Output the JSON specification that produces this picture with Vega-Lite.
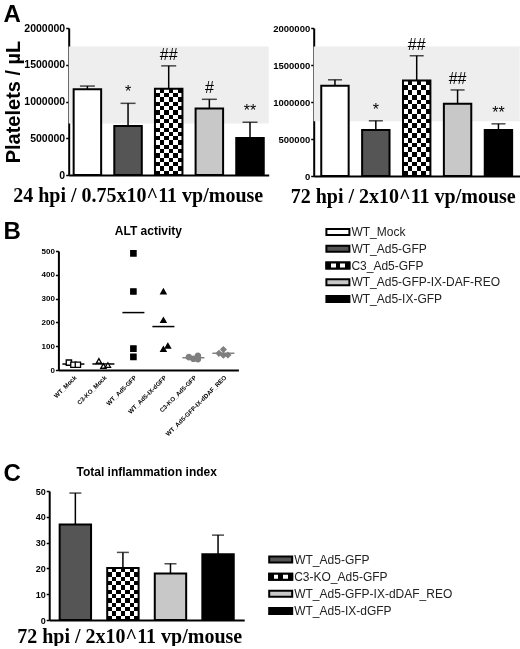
{
  "$schema": "https://vega.github.io/schema/vega-lite/v6.json",
  "padding": {"left": 3, "top": 3, "right": 0, "bottom": 0},
  "spacing": 14,
  "config": {
    "view": {"stroke": null},
    "font": "Liberation Sans",
    "axis": {
      "domainColor": "black", "domainWidth": 2, "tickColor": "black", "tickWidth": 1.5,
      "tickSize": 3, "labelPadding": 1, "labelFontWeight": "bold", "labelColor": "black",
      "labelOverlap": false, "titleColor": "black", "grid": false
    },
    "text": {"color": "black"},
    "title": {"color": "black"}
  },
  "datasets": {
    "platelets": [
      {"time": "24hpi", "group": "WT_Mock", "mean": 1165000, "upper": 1210000, "sig": ""},
      {"time": "24hpi", "group": "WT_Ad5-GFP", "mean": 665000, "upper": 975000, "sig": "*"},
      {"time": "24hpi", "group": "C3_Ad5-GFP", "mean": 1175000, "upper": 1485000, "sig": "##"},
      {"time": "24hpi", "group": "WT_Ad5-GFP-IX-DAF-REO", "mean": 905000, "upper": 1030000, "sig": "#"},
      {"time": "24hpi", "group": "WT_Ad5-IX-GFP", "mean": 505000, "upper": 718000, "sig": "**"},
      {"time": "72hpi", "group": "WT_Mock", "mean": 1220000, "upper": 1300000, "sig": ""},
      {"time": "72hpi", "group": "WT_Ad5-GFP", "mean": 620000, "upper": 746000, "sig": "*"},
      {"time": "72hpi", "group": "C3_Ad5-GFP", "mean": 1290000, "upper": 1625000, "sig": "##"},
      {"time": "72hpi", "group": "WT_Ad5-GFP-IX-DAF-REO", "mean": 975000, "upper": 1163000, "sig": "##"},
      {"time": "72hpi", "group": "WT_Ad5-IX-GFP", "mean": 620000, "upper": 705000, "sig": "**"}
    ],
    "alt": [
      {"group": "WT_Mock", "slot": -1, "alt": 31},
      {"group": "WT_Mock", "slot": 0, "alt": 22},
      {"group": "WT_Mock", "slot": 1, "alt": 22},
      {"group": "C3-KO_Mock", "slot": -1, "alt": 38},
      {"group": "C3-KO_Mock", "slot": 0, "alt": 17},
      {"group": "C3-KO_Mock", "slot": 1, "alt": 21},
      {"group": "WT_Ad5-GFP", "slot": 0, "alt": 490},
      {"group": "WT_Ad5-GFP", "slot": 0, "alt": 330},
      {"group": "WT_Ad5-GFP", "slot": 0, "alt": 90},
      {"group": "WT_Ad5-GFP", "slot": 0, "alt": 55},
      {"group": "WT_Ad5-IX-dGFP", "slot": 0, "alt": 330},
      {"group": "WT_Ad5-IX-dGFP", "slot": 0, "alt": 210},
      {"group": "WT_Ad5-IX-dGFP", "slot": 0, "alt": 88},
      {"group": "WT_Ad5-IX-dGFP", "slot": 1, "alt": 102},
      {"group": "C3-KO_Ad5-GFP", "slot": -1, "alt": 54},
      {"group": "C3-KO_Ad5-GFP", "slot": 0, "alt": 47},
      {"group": "C3-KO_Ad5-GFP", "slot": 1, "alt": 60},
      {"group": "C3-KO_Ad5-GFP", "slot": 1, "alt": 45},
      {"group": "WT_Ad5-GFP-IX-dDAF_REO", "slot": -1, "alt": 70},
      {"group": "WT_Ad5-GFP-IX-dDAF_REO", "slot": 0, "alt": 62},
      {"group": "WT_Ad5-GFP-IX-dDAF_REO", "slot": 0, "alt": 86},
      {"group": "WT_Ad5-GFP-IX-dDAF_REO", "slot": 1, "alt": 63}
    ],
    "inflam": [
      {"group": "WT_Ad5-GFP", "mean": 37, "upper": 49.2},
      {"group": "C3-KO_Ad5-GFP", "mean": 20.2, "upper": 26.2},
      {"group": "WT_Ad5-GFP-IX-dDAF_REO", "mean": 18, "upper": 21.8},
      {"group": "WT_Ad5-IX-dGFP", "mean": 25.5, "upper": 32.9}
    ],
    "legendA": [
      {"label": "WT_Mock", "order": 1},
      {"label": "WT_Ad5-GFP", "order": 2},
      {"label": "C3_Ad5-GFP", "order": 3},
      {"label": "WT_Ad5-GFP-IX-DAF-REO", "order": 4},
      {"label": "WT_Ad5-IX-GFP", "order": 5}
    ],
    "legendC": [
      {"label": "WT_Ad5-GFP", "order": 1},
      {"label": "C3-KO_Ad5-GFP", "order": 2},
      {"label": "WT_Ad5-GFP-IX-dDAF_REO", "order": 3},
      {"label": "WT_Ad5-IX-dGFP", "order": 4}
    ]
  },
  "resolve": {"scale": {"x": "independent", "y": "independent", "fill": "independent", "color": "independent"}},
  "vconcat": [
    {
      "spacing": -17.3,
      "resolve": {"scale": {"x": "independent", "y": "independent", "fill": "independent"}},
      "hconcat": [
        {
          "width": 1, "height": 1,
          "data": {"values": [{"panel": "A"}]},
          "mark": {"type": "text", "align": "left", "baseline": "alphabetic", "fontSize": 24, "fontWeight": "bold", "dy": -6.5},
          "encoding": {"text": {"field": "panel"}}
        },
        {
          "spacing": 4,
          "resolve": {"scale": {"x": "independent", "y": "independent", "fill": "independent"}},
          "hconcat": [
            {
              "width": 200,
              "height": 147,
              "layer": [
                {
                  "data": {"values": [{"lo": 700000, "hi": 1750000}]},
                  "mark": {"type": "rect", "color": "#eeeeee"},
                  "encoding": {
                    "y": {"field": "lo", "type": "quantitative", "title": "Platelets / µL", "scale": {"domain": [0, 2000000]},
                      "axis": {"titleFontSize": 20, "titleFontWeight": "bold", "titlePadding": 0, "values": [0, 500000, 1000000, 1500000, 2000000], "format": "d", "labelFontSize": 10.5}},
                    "y2": {"field": "hi"}
                  }
                },
                {
                  "data": {"name": "platelets"},
                  "transform": [{"filter": "datum.time == '24hpi'"}],
                  "encoding": {
                    "x": {
                      "field": "group", "type": "nominal",
                      "scale": {"type": "band", "domain": ["WT_Mock", "WT_Ad5-GFP", "C3_Ad5-GFP", "WT_Ad5-GFP-IX-DAF-REO", "WT_Ad5-IX-GFP"], "paddingInner": 0.32, "paddingOuter": 0.12},
                      "axis": {"title": "24 hpi / 0.75x10^11 vp/mouse", "titleFont": "Liberation Serif", "titleFontSize": 20, "titleFontWeight": "bold", "titleX": 69, "titlePadding": 10, "labels": false, "ticks": false}
                    },
                    "y": {
                      "field": "mean", "type": "quantitative", "title": "Platelets / µL", "scale": {"domain": [0, 2000000]},
                      "axis": {"titleFontSize": 20, "titleFontWeight": "bold", "titlePadding": 0, "values": [0, 500000, 1000000, 1500000, 2000000], "format": "d", "labelFontSize": 10.5}
                    }
                  },
                  "layer": [
                    {
                      "mark": {"type": "bar", "size": 27.5},
                      "encoding": {"fill": {"field": "group", "type": "nominal", "scale": {"domain": ["WT_Mock", "WT_Ad5-GFP", "C3_Ad5-GFP", "WT_Ad5-GFP-IX-DAF-REO", "WT_Ad5-IX-GFP"], "range": ["white", "#555555", "#888888", "#c8c8c8", "black"]}, "legend": null}}
                    },
                    {
                      "transform": [{"filter": "datum.group == 'C3_Ad5-GFP'"}],
                      "mark": {"type": "bar", "size": 27.5, "fill": {"gradient": "linear", "x1": 0, "y1": 0, "x2": 1, "y2": 0, "stops": [
                        {"offset": 0, "color": "black"}, {"offset": 0.1667, "color": "black"}, {"offset": 0.1667, "color": "white"}, {"offset": 0.3333, "color": "white"},
                        {"offset": 0.3333, "color": "black"}, {"offset": 0.5, "color": "black"}, {"offset": 0.5, "color": "white"}, {"offset": 0.6667, "color": "white"},
                        {"offset": 0.6667, "color": "black"}, {"offset": 0.8333, "color": "black"}, {"offset": 0.8333, "color": "white"}, {"offset": 1, "color": "white"}]}}
                    },
                    {
                      "transform": [{"filter": "datum.group == 'C3_Ad5-GFP'"}],
                      "mark": {"type": "bar", "size": 27.5, "blend": "difference", "fill": {"gradient": "linear", "x1": 0, "y1": 0, "x2": 0, "y2": 1, "stops": [
                        {"offset": 0, "color": "white"}, {"offset": 0.05, "color": "white"}, {"offset": 0.05, "color": "black"}, {"offset": 0.1, "color": "black"},
                        {"offset": 0.1, "color": "white"}, {"offset": 0.15, "color": "white"}, {"offset": 0.15, "color": "black"}, {"offset": 0.2, "color": "black"},
                        {"offset": 0.2, "color": "white"}, {"offset": 0.25, "color": "white"}, {"offset": 0.25, "color": "black"}, {"offset": 0.3, "color": "black"},
                        {"offset": 0.3, "color": "white"}, {"offset": 0.35, "color": "white"}, {"offset": 0.35, "color": "black"}, {"offset": 0.4, "color": "black"},
                        {"offset": 0.4, "color": "white"}, {"offset": 0.45, "color": "white"}, {"offset": 0.45, "color": "black"}, {"offset": 0.5, "color": "black"},
                        {"offset": 0.5, "color": "white"}, {"offset": 0.55, "color": "white"}, {"offset": 0.55, "color": "black"}, {"offset": 0.6, "color": "black"},
                        {"offset": 0.6, "color": "white"}, {"offset": 0.65, "color": "white"}, {"offset": 0.65, "color": "black"}, {"offset": 0.7, "color": "black"},
                        {"offset": 0.7, "color": "white"}, {"offset": 0.75, "color": "white"}, {"offset": 0.75, "color": "black"}, {"offset": 0.8, "color": "black"},
                        {"offset": 0.8, "color": "white"}, {"offset": 0.85, "color": "white"}, {"offset": 0.85, "color": "black"}, {"offset": 0.9, "color": "black"},
                        {"offset": 0.9, "color": "white"}, {"offset": 0.95, "color": "white"}, {"offset": 0.95, "color": "black"}, {"offset": 1, "color": "black"}]}}
                    },
                    {"mark": {"type": "bar", "size": 27.5, "fillOpacity": 0, "stroke": "black", "strokeWidth": 2}},
                    {"mark": {"type": "rule", "color": "black", "strokeWidth": 1.5}, "encoding": {"y2": {"field": "upper"}}},
                    {"mark": {"type": "tick", "color": "black", "thickness": 1.5, "size": 15}, "encoding": {"y": {"field": "upper", "type": "quantitative", "title": "Platelets / µL",
                      "axis": {"titleFontSize": 20, "titleFontWeight": "bold", "titlePadding": 0, "values": [0, 500000, 1000000, 1500000, 2000000], "format": "d", "labelFontSize": 10.5}}}},
                    {"mark": {"type": "text", "color": "black", "baseline": "bottom", "dy": -3, "fontSize": 16}, "encoding": {"y": {"field": "upper", "type": "quantitative", "title": "Platelets / µL",
                      "axis": {"titleFontSize": 20, "titleFontWeight": "bold", "titlePadding": 0, "values": [0, 500000, 1000000, 1500000, 2000000], "format": "d", "labelFontSize": 10.5}}, "text": {"field": "sig"}}}
                  ]
                }
              ]
            },
            {
              "width": 206,
              "height": 148,
              "layer": [
                {
                  "data": {"values": [{"lo": 740000, "hi": 1750000}]},
                  "mark": {"type": "rect", "color": "#eeeeee"},
                  "encoding": {
                    "y": {"field": "lo", "type": "quantitative", "title": null, "scale": {"domain": [0, 2000000]},
                      "axis": {"values": [0, 500000, 1000000, 1500000, 2000000], "format": "d", "labelFontSize": 9.5}},
                    "y2": {"field": "hi"}
                  }
                },
                {
                  "data": {"name": "platelets"},
                  "transform": [{"filter": "datum.time == '72hpi'"}],
                  "encoding": {
                    "x": {
                      "field": "group", "type": "nominal",
                      "scale": {"type": "band", "domain": ["WT_Mock", "WT_Ad5-GFP", "C3_Ad5-GFP", "WT_Ad5-GFP-IX-DAF-REO", "WT_Ad5-IX-GFP"], "paddingInner": 0.33, "paddingOuter": 0.185},
                      "axis": {"title": "72 hpi / 2x10^11 vp/mouse", "titleFont": "Liberation Serif", "titleFontSize": 20, "titleFontWeight": "bold", "titleX": 89, "titlePadding": 10, "labels": false, "ticks": false}
                    },
                    "y": {
                      "field": "mean", "type": "quantitative", "title": null, "scale": {"domain": [0, 2000000]},
                      "axis": {"values": [0, 500000, 1000000, 1500000, 2000000], "format": "d", "labelFontSize": 9.5}
                    }
                  },
                  "layer": [
                    {
                      "mark": {"type": "bar", "size": 27.4},
                      "encoding": {"fill": {"field": "group", "type": "nominal", "scale": {"domain": ["WT_Mock", "WT_Ad5-GFP", "C3_Ad5-GFP", "WT_Ad5-GFP-IX-DAF-REO", "WT_Ad5-IX-GFP"], "range": ["white", "#555555", "#888888", "#c8c8c8", "black"]}, "legend": null}}
                    },
                    {
                      "transform": [{"filter": "datum.group == 'C3_Ad5-GFP'"}],
                      "mark": {"type": "bar", "size": 27.4, "fill": {"gradient": "linear", "x1": 0, "y1": 0, "x2": 1, "y2": 0, "stops": [
                        {"offset": 0, "color": "black"}, {"offset": 0.1667, "color": "black"}, {"offset": 0.1667, "color": "white"}, {"offset": 0.3333, "color": "white"},
                        {"offset": 0.3333, "color": "black"}, {"offset": 0.5, "color": "black"}, {"offset": 0.5, "color": "white"}, {"offset": 0.6667, "color": "white"},
                        {"offset": 0.6667, "color": "black"}, {"offset": 0.8333, "color": "black"}, {"offset": 0.8333, "color": "white"}, {"offset": 1, "color": "white"}]}}
                    },
                    {
                      "transform": [{"filter": "datum.group == 'C3_Ad5-GFP'"}],
                      "mark": {"type": "bar", "size": 27.4, "blend": "difference", "fill": {"gradient": "linear", "x1": 0, "y1": 0, "x2": 0, "y2": 1, "stops": [
                        {"offset": 0, "color": "white"}, {"offset": 0.05, "color": "white"}, {"offset": 0.05, "color": "black"}, {"offset": 0.1, "color": "black"},
                        {"offset": 0.1, "color": "white"}, {"offset": 0.15, "color": "white"}, {"offset": 0.15, "color": "black"}, {"offset": 0.2, "color": "black"},
                        {"offset": 0.2, "color": "white"}, {"offset": 0.25, "color": "white"}, {"offset": 0.25, "color": "black"}, {"offset": 0.3, "color": "black"},
                        {"offset": 0.3, "color": "white"}, {"offset": 0.35, "color": "white"}, {"offset": 0.35, "color": "black"}, {"offset": 0.4, "color": "black"},
                        {"offset": 0.4, "color": "white"}, {"offset": 0.45, "color": "white"}, {"offset": 0.45, "color": "black"}, {"offset": 0.5, "color": "black"},
                        {"offset": 0.5, "color": "white"}, {"offset": 0.55, "color": "white"}, {"offset": 0.55, "color": "black"}, {"offset": 0.6, "color": "black"},
                        {"offset": 0.6, "color": "white"}, {"offset": 0.65, "color": "white"}, {"offset": 0.65, "color": "black"}, {"offset": 0.7, "color": "black"},
                        {"offset": 0.7, "color": "white"}, {"offset": 0.75, "color": "white"}, {"offset": 0.75, "color": "black"}, {"offset": 0.8, "color": "black"},
                        {"offset": 0.8, "color": "white"}, {"offset": 0.85, "color": "white"}, {"offset": 0.85, "color": "black"}, {"offset": 0.9, "color": "black"},
                        {"offset": 0.9, "color": "white"}, {"offset": 0.95, "color": "white"}, {"offset": 0.95, "color": "black"}, {"offset": 1, "color": "black"}]}}
                    },
                    {"mark": {"type": "bar", "size": 27.4, "fillOpacity": 0, "stroke": "black", "strokeWidth": 2}},
                    {"mark": {"type": "rule", "color": "black", "strokeWidth": 1.5}, "encoding": {"y2": {"field": "upper"}}},
                    {"mark": {"type": "tick", "color": "black", "thickness": 1.5, "size": 14}, "encoding": {"y": {"field": "upper", "type": "quantitative", "title": null,
                      "axis": {"values": [0, 500000, 1000000, 1500000, 2000000], "format": "d", "labelFontSize": 9.5}}}},
                    {"mark": {"type": "text", "color": "black", "baseline": "bottom", "dy": -3, "fontSize": 16}, "encoding": {"y": {"field": "upper", "type": "quantitative", "title": null,
                      "axis": {"values": [0, 500000, 1000000, 1500000, 2000000], "format": "d", "labelFontSize": 9.5}}, "text": {"field": "sig"}}}
                  ]
                }
              ]
            }
          ]
        }
      ]
    },
    {
      "spacing": 19.4,
      "resolve": {"scale": {"x": "independent", "y": "independent", "fill": "independent", "color": "independent"}},
      "hconcat": [
        {
          "width": 1, "height": 1,
          "data": {"values": [{"panel": "B"}]},
          "mark": {"type": "text", "align": "left", "baseline": "alphabetic", "fontSize": 24, "fontWeight": "bold", "dy": -12.5},
          "encoding": {"text": {"field": "panel"}}
        },
        {
          "spacing": 87,
          "resolve": {"scale": {"x": "independent", "y": "independent", "fill": "independent", "color": "independent"}},
          "hconcat": [
            {
              "title": {"text": "ALT activity", "fontSize": 12, "fontWeight": "bold", "offset": 9},
              "width": 180,
              "height": 119,
              "data": {"name": "alt"},
              "encoding": {
                "x": {
                  "field": "group", "type": "nominal",
                  "scale": {"domain": ["WT_Mock", "C3-KO_Mock", "WT_Ad5-GFP", "WT_Ad5-IX-dGFP", "C3-KO_Ad5-GFP", "WT_Ad5-GFP-IX-dDAF_REO"]},
                  "axis": {"title": null, "labelAngle": -45, "labelFontSize": 6.2, "ticks": false, "labelPadding": 4}
                }
              },
              "layer": [
                {
                  "mark": {"type": "tick", "thickness": 1.5, "size": 22},
                  "encoding": {
                    "y": {"aggregate": "mean", "field": "alt", "type": "quantitative", "title": null, "scale": {"domain": [0, 500]}, "axis": {"values": [0, 100, 200, 300, 400, 500], "labelFontSize": 8}},
                    "color": {"field": "group", "type": "nominal", "scale": {"domain": ["WT_Mock", "C3-KO_Mock", "WT_Ad5-GFP", "WT_Ad5-IX-dGFP", "C3-KO_Ad5-GFP", "WT_Ad5-GFP-IX-dDAF_REO"], "range": ["black", "black", "black", "black", "#7f7f7f", "#7f7f7f"]}, "legend": null}
                  }
                },
                {
                  "mark": {"type": "point", "strokeWidth": 1.3, "opacity": 1, "size": 28},
                  "encoding": {
                    "xOffset": {"field": "slot", "type": "ordinal", "scale": {"domain": [-2, -1, 0, 1, 2]}},
                    "y": {"field": "alt", "type": "quantitative", "title": null, "scale": {"domain": [0, 500]}, "axis": {"values": [0, 100, 200, 300, 400, 500], "labelFontSize": 8}},
                    "shape": {"field": "group", "type": "nominal", "scale": {"domain": ["WT_Mock", "C3-KO_Mock", "WT_Ad5-GFP", "WT_Ad5-IX-dGFP", "C3-KO_Ad5-GFP", "WT_Ad5-GFP-IX-dDAF_REO"], "range": ["square", "triangle-up", "square", "triangle-up", "circle", "diamond"]}, "legend": null},
                    "fill": {"field": "group", "type": "nominal", "scale": {"domain": ["WT_Mock", "C3-KO_Mock", "WT_Ad5-GFP", "WT_Ad5-IX-dGFP", "C3-KO_Ad5-GFP", "WT_Ad5-GFP-IX-dDAF_REO"], "range": ["white", "white", "black", "black", "#7f7f7f", "#7f7f7f"]}, "legend": null},
                    "stroke": {"field": "group", "type": "nominal", "scale": {"domain": ["WT_Mock", "C3-KO_Mock", "WT_Ad5-GFP", "WT_Ad5-IX-dGFP", "C3-KO_Ad5-GFP", "WT_Ad5-GFP-IX-dDAF_REO"], "range": ["black", "black", "black", "black", "#7f7f7f", "#7f7f7f"]}, "legend": null}
                  }
                }
              ]
            },
            {
              "width": 23,
              "height": 197,
              "data": {"name": "legendA"},
              "encoding": {
                "y": {"field": "order", "type": "quantitative", "scale": {"domain": [2.134, 13.896], "reverse": true, "nice": false, "zero": false, "padding": 0}, "axis": null}
              },
              "layer": [
                {
                  "mark": {"type": "bar", "size": 6, "stroke": "black", "strokeWidth": 2},
                  "encoding": {
                    "x": {"datum": 0, "type": "quantitative", "scale": {"domain": [0, 1]}, "axis": null},
                    "x2": {"datum": 1},
                    "fill": {"field": "label", "type": "nominal", "scale": {"domain": ["WT_Mock", "WT_Ad5-GFP", "C3_Ad5-GFP", "WT_Ad5-GFP-IX-DAF-REO", "WT_Ad5-IX-GFP"], "range": ["white", "#555555", "#888888", "#c8c8c8", "black"]}, "legend": null}
                  }
                },
                {
                  "transform": [{"filter": "datum.label == 'C3_Ad5-GFP'"}],
                  "mark": {"type": "bar", "size": 6, "stroke": "black", "strokeWidth": 2, "fill": {"gradient": "linear", "x1": 0, "y1": 0, "x2": 1, "y2": 0, "stops": [
                    {"offset": 0, "color": "black"}, {"offset": 0.2, "color": "black"}, {"offset": 0.2, "color": "white"}, {"offset": 0.4, "color": "white"},
                    {"offset": 0.4, "color": "black"}, {"offset": 0.6, "color": "black"}, {"offset": 0.6, "color": "white"}, {"offset": 0.8, "color": "white"},
                    {"offset": 0.8, "color": "black"}, {"offset": 1, "color": "black"}]}},
                  "encoding": {"x": {"datum": 0, "type": "quantitative"}, "x2": {"datum": 1}}
                },
                {
                  "mark": {"type": "text", "align": "left", "baseline": "middle", "dx": 2, "fontSize": 12, "color": "#222222"},
                  "encoding": {"x": {"datum": 1, "type": "quantitative"}, "text": {"field": "label"}}
                }
              ]
            }
          ]
        }
      ]
    },
    {
      "spacing": -4.8,
      "resolve": {"scale": {"x": "independent", "y": "independent", "fill": "independent"}},
      "hconcat": [
        {
          "width": 1, "height": 1,
          "data": {"values": [{"panel": "C"}]},
          "mark": {"type": "text", "align": "left", "baseline": "alphabetic", "fontSize": 24, "fontWeight": "bold", "dy": -10.2},
          "encoding": {"text": {"field": "panel"}}
        },
        {
          "spacing": 24,
          "resolve": {"scale": {"x": "independent", "y": "independent", "fill": "independent"}},
          "hconcat": [
            {
              "title": {"text": "Total inflammation index", "fontSize": 12, "fontWeight": "bold", "offset": 8},
              "width": 195,
              "height": 129,
              "data": {"name": "inflam"},
              "encoding": {
                "x": {
                  "field": "group", "type": "nominal",
                  "scale": {"type": "band", "domain": ["WT_Ad5-GFP", "C3-KO_Ad5-GFP", "WT_Ad5-GFP-IX-dDAF_REO", "WT_Ad5-IX-dGFP"], "paddingInner": 0.34, "paddingOuter": 0.22},
                  "axis": {"title": "72 hpi / 2x10^11 vp/mouse", "titleFont": "Liberation Serif", "titleFontSize": 20, "titleFontWeight": "bold", "titleX": 80, "titlePadding": 6, "labels": false, "ticks": false}
                },
                "y": {
                  "field": "mean", "type": "quantitative", "title": null, "scale": {"domain": [0, 50]},
                  "axis": {"values": [0, 10, 20, 30, 40, 50], "labelFontSize": 9}
                }
              },
              "layer": [
                {
                  "mark": {"type": "bar", "size": 31.4},
                  "encoding": {"fill": {"field": "group", "type": "nominal", "scale": {"domain": ["WT_Ad5-GFP", "C3-KO_Ad5-GFP", "WT_Ad5-GFP-IX-dDAF_REO", "WT_Ad5-IX-dGFP"], "range": ["#555555", "#888888", "#c8c8c8", "black"]}, "legend": null}}
                },
                {
                  "transform": [{"filter": "datum.group == 'C3-KO_Ad5-GFP'"}],
                  "mark": {"type": "bar", "size": 31.4, "fill": {"gradient": "linear", "x1": 0, "y1": 0, "x2": 1, "y2": 0, "stops": [
                    {"offset": 0, "color": "black"}, {"offset": 0.1429, "color": "black"}, {"offset": 0.1429, "color": "white"}, {"offset": 0.2857, "color": "white"},
                    {"offset": 0.2857, "color": "black"}, {"offset": 0.4286, "color": "black"}, {"offset": 0.4286, "color": "white"}, {"offset": 0.5714, "color": "white"},
                    {"offset": 0.5714, "color": "black"}, {"offset": 0.7143, "color": "black"}, {"offset": 0.7143, "color": "white"}, {"offset": 0.8571, "color": "white"},
                    {"offset": 0.8571, "color": "black"}, {"offset": 1, "color": "black"}]}}
                },
                {
                  "transform": [{"filter": "datum.group == 'C3-KO_Ad5-GFP'"}],
                  "mark": {"type": "bar", "size": 31.4, "blend": "difference", "fill": {"gradient": "linear", "x1": 0, "y1": 0, "x2": 0, "y2": 1, "stops": [
                    {"offset": 0, "color": "white"}, {"offset": 0.0833, "color": "white"}, {"offset": 0.0833, "color": "black"}, {"offset": 0.1667, "color": "black"},
                    {"offset": 0.1667, "color": "white"}, {"offset": 0.25, "color": "white"}, {"offset": 0.25, "color": "black"}, {"offset": 0.3333, "color": "black"},
                    {"offset": 0.3333, "color": "white"}, {"offset": 0.4167, "color": "white"}, {"offset": 0.4167, "color": "black"}, {"offset": 0.5, "color": "black"},
                    {"offset": 0.5, "color": "white"}, {"offset": 0.5833, "color": "white"}, {"offset": 0.5833, "color": "black"}, {"offset": 0.6667, "color": "black"},
                    {"offset": 0.6667, "color": "white"}, {"offset": 0.75, "color": "white"}, {"offset": 0.75, "color": "black"}, {"offset": 0.8333, "color": "black"},
                    {"offset": 0.8333, "color": "white"}, {"offset": 0.9167, "color": "white"}, {"offset": 0.9167, "color": "black"}, {"offset": 1, "color": "black"}]}}
                },
                {"mark": {"type": "bar", "size": 31.4, "fillOpacity": 0, "stroke": "black", "strokeWidth": 2}},
                {"mark": {"type": "rule", "color": "black", "strokeWidth": 1.5}, "encoding": {"y2": {"field": "upper"}}},
                {"mark": {"type": "tick", "color": "black", "thickness": 1.5, "size": 12}, "encoding": {"y": {"field": "upper", "type": "quantitative", "title": null, "axis": {"values": [0, 10, 20, 30, 40, 50], "labelFontSize": 9}}}}
              ]
            },
            {
              "width": 23,
              "height": 137,
              "data": {"name": "legendC"},
              "encoding": {
                "y": {"field": "order", "type": "quantitative", "scale": {"domain": [-3, 5], "reverse": true, "nice": false, "zero": false, "padding": 0}, "axis": null}
              },
              "layer": [
                {
                  "mark": {"type": "bar", "size": 6, "stroke": "black", "strokeWidth": 2},
                  "encoding": {
                    "x": {"datum": 0, "type": "quantitative", "scale": {"domain": [0, 1]}, "axis": null},
                    "x2": {"datum": 1},
                    "fill": {"field": "label", "type": "nominal", "scale": {"domain": ["WT_Ad5-GFP", "C3-KO_Ad5-GFP", "WT_Ad5-GFP-IX-dDAF_REO", "WT_Ad5-IX-dGFP"], "range": ["#555555", "#888888", "#c8c8c8", "black"]}, "legend": null}
                  }
                },
                {
                  "transform": [{"filter": "datum.label == 'C3-KO_Ad5-GFP'"}],
                  "mark": {"type": "bar", "size": 6, "stroke": "black", "strokeWidth": 2, "fill": {"gradient": "linear", "x1": 0, "y1": 0, "x2": 1, "y2": 0, "stops": [
                    {"offset": 0, "color": "black"}, {"offset": 0.2, "color": "black"}, {"offset": 0.2, "color": "white"}, {"offset": 0.4, "color": "white"},
                    {"offset": 0.4, "color": "black"}, {"offset": 0.6, "color": "black"}, {"offset": 0.6, "color": "white"}, {"offset": 0.8, "color": "white"},
                    {"offset": 0.8, "color": "black"}, {"offset": 1, "color": "black"}]}},
                  "encoding": {"x": {"datum": 0, "type": "quantitative"}, "x2": {"datum": 1}}
                },
                {
                  "mark": {"type": "text", "align": "left", "baseline": "middle", "dx": 2, "fontSize": 12, "color": "#222222"},
                  "encoding": {"x": {"datum": 1, "type": "quantitative"}, "text": {"field": "label"}}
                }
              ]
            }
          ]
        }
      ]
    }
  ]
}
